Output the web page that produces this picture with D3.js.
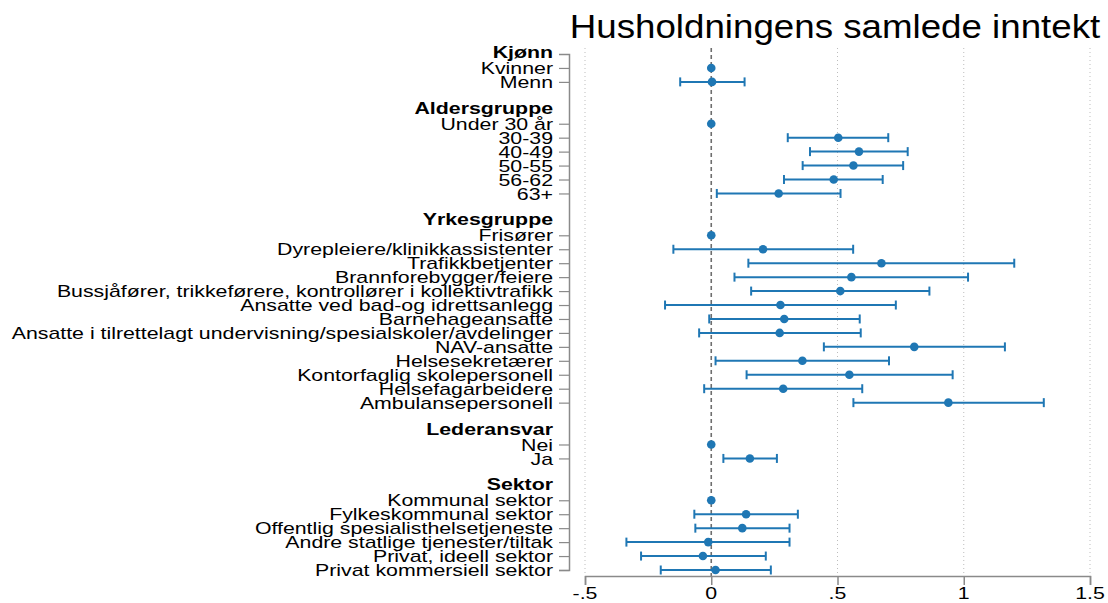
<!DOCTYPE html>
<html><head><meta charset="utf-8">
<script src="https://cdn.jsdelivr.net/npm/d3@7"></script>
<style>body{margin:0;background:#fff;} text{font-family:"Liberation Sans",Arial,sans-serif;}</style>
</head><body>
<svg id="c" width="1108" height="603"></svg>
<script>
const title = "Husholdningens samlede inntekt";
const groups = ["Kjønn","Aldersgruppe","Yrkesgruppe","Lederansvar","Sektor"];
const categories = [
  ["Kvinner","Menn"],
  ["Under 30 år","30-39","40-49","50-55","56-62","63+"],
  ["Frisører","Dyrepleiere/klinikkassistenter","Trafikkbetjenter","Brannforebygger/feiere","Bussjåfører, trikkeførere, kontrollører i kollektivtrafikk","Ansatte ved bad-og idrettsanlegg","Barnehageansatte","Ansatte i tilrettelagt undervisning/spesialskoler/avdelinger","NAV-ansatte","Helsesekretærer","Kontorfaglig skolepersonell","Helsefagarbeidere","Ambulansepersonell"],
  ["Nei","Ja"],
  ["Kommunal sektor","Fylkeskommunal sektor","Offentlig spesialisthelsetjeneste","Andre statlige tjenester/tiltak","Privat, ideell sektor","Privat kommersiell sektor"]
];
const estimates = [
  [0, 0.003],
  [0, 0.503, 0.585, 0.563, 0.485, 0.267],
  [0, 0.205, 0.674, 0.555, 0.511, 0.274, 0.289, 0.271, 0.804, 0.361, 0.547, 0.285, 0.939],
  [0, 0.153],
  [0, 0.138, 0.123, -0.012, -0.033, 0.017]
];
const lower = [
  [null, -0.123],
  [null, 0.303, 0.391, 0.362, 0.288, 0.022],
  [null, -0.150, 0.147, 0.092, 0.158, -0.183, -0.008, -0.048, 0.446, 0.017, 0.140, -0.028, 0.563],
  [null, 0.048],
  [null, -0.067, -0.063, -0.336, -0.278, -0.200]
];
const upper = [
  [null, 0.132],
  [null, 0.701, 0.778, 0.760, 0.679, 0.512],
  [null, 0.562, 1.200, 1.017, 0.864, 0.731, 0.588, 0.592, 1.163, 0.704, 0.956, 0.598, 1.317],
  [null, 0.260],
  [null, 0.343, 0.310, 0.310, 0.216, 0.236]
];
const xTicks = [-0.5, 0, 0.5, 1, 1.5];
const xTickLabels = ["-.5", "0", ".5", "1", "1.5"];

// build slot layout
const headers = [], items = [];
let slot = 0;
groups.forEach((g, gi) => {
  if (gi > 0) slot++;
  headers.push({label: g, slot: slot});
  slot++;
  categories[gi].forEach((c, ci) => {
    items.push({label: c, slot: slot, est: estimates[gi][ci], lo: lower[gi][ci], hi: upper[gi][ci]});
    slot++;
  });
});
const nSlots = slot - 1;

const svg = d3.select("#c");
const x = d3.scaleLinear().domain([-0.5, 1.5]).range([585, 1090]);
const y = d3.scaleLinear().domain([0, nSlots]).range([54, 570]);
const blue = "#1f77b4";
const axisGray = "#8a8a8a";
const SX = 1.255; // horizontal stretch of the reference's text

// title
svg.append("text").attr("transform", "translate(835,38) scale(1.13,1)").attr("text-anchor", "middle")
  .attr("font-size", 32.5).attr("fill", "#000").text(title);

// grid lines
svg.append("g").selectAll("line").data(xTicks.filter(d => d !== 0)).join("line")
  .attr("x1", d => x(d)).attr("x2", d => x(d)).attr("y1", 48).attr("y2", 576)
  .attr("stroke", "#bdbdbd").attr("stroke-width", 1).attr("stroke-dasharray", "1,3");

// zero line
svg.append("line").attr("x1", x(0)).attr("x2", x(0)).attr("y1", 48).attr("y2", 576)
  .attr("stroke", "#6e6e6e").attr("stroke-width", 1.6).attr("stroke-dasharray", "4,3");

// x axis
const xAxis = svg.append("g").attr("transform", "translate(0,576)")
  .call(d3.axisBottom(x).tickValues(xTicks).tickFormat("").tickSizeOuter(0).tickSize(9));
xAxis.select(".domain").attr("stroke", axisGray).attr("stroke-width", 1.5);
xAxis.selectAll(".tick line").attr("stroke", axisGray).attr("stroke-width", 1.5);
svg.append("g").selectAll("text").data(xTicks).join("text")
  .attr("transform", d => `translate(${x(d)},599) scale(${SX},1)`)
  .attr("text-anchor", "middle").attr("font-size", 17).attr("fill", "#000")
  .text((d, i) => xTickLabels[i]);

// y axis
const yAxis = svg.append("g").attr("transform", "translate(569,0)")
  .call(d3.axisLeft(y).tickValues(items.map(d => d.slot)).tickFormat("").tickSizeOuter(0).tickSize(10));
yAxis.select(".domain").attr("stroke", axisGray).attr("stroke-width", 1.5);
yAxis.selectAll(".tick line").attr("stroke", axisGray).attr("stroke-width", 1.2);
svg.append("g").selectAll("text").data(items).join("text")
  .attr("transform", d => `translate(553,${y(d.slot)}) scale(${SX},1)`)
  .attr("dy", "0.36em").attr("text-anchor", "end").attr("font-size", 17).attr("fill", "#000")
  .text(d => d.label);

// headers
svg.append("g").selectAll("text").data(headers).join("text")
  .attr("transform", d => `translate(553,${y(d.slot) - 2}) scale(${SX},1)`)
  .attr("dy", "0.36em").attr("text-anchor", "end").attr("font-size", 17).attr("font-weight", "bold").attr("fill", "#000")
  .text(d => d.label);

// CIs
const ci = items.filter(d => d.lo !== null);
const g = svg.append("g").attr("stroke", blue).attr("stroke-width", 2);
g.selectAll("line.ci").data(ci).join("line").attr("class", "ci")
  .attr("x1", d => x(d.lo)).attr("x2", d => x(d.hi)).attr("y1", d => y(d.slot)).attr("y2", d => y(d.slot));
g.selectAll("line.capl").data(ci).join("line").attr("class", "capl")
  .attr("x1", d => x(d.lo)).attr("x2", d => x(d.lo)).attr("y1", d => y(d.slot) - 4.5).attr("y2", d => y(d.slot) + 4.5);
g.selectAll("line.caph").data(ci).join("line").attr("class", "caph")
  .attr("x1", d => x(d.hi)).attr("x2", d => x(d.hi)).attr("y1", d => y(d.slot) - 4.5).attr("y2", d => y(d.slot) + 4.5);

// points
svg.append("g").selectAll("circle").data(items).join("circle")
  .attr("cx", d => x(d.est)).attr("cy", d => y(d.slot)).attr("r", 4.3).attr("fill", blue);
</script>
</body></html>
